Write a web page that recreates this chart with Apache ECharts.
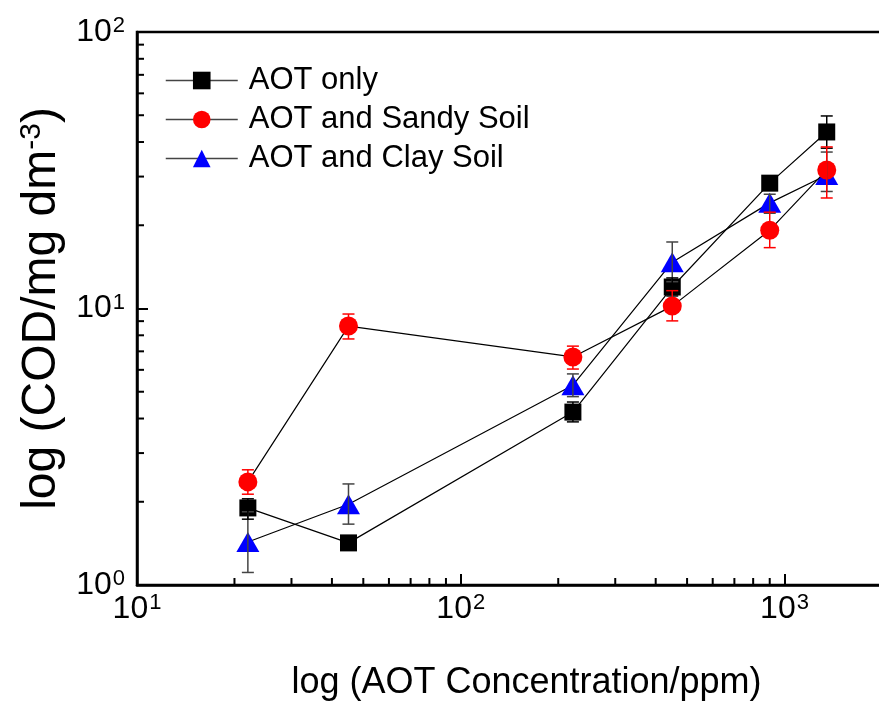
<!DOCTYPE html>
<html>
<head>
<meta charset="utf-8">
<script src="https://cdn.jsdelivr.net/npm/echarts@6/dist/echarts.min.js"></script>
<style>
  html, body { margin: 0; padding: 0; background: #fff; }
  #chart { width: 879px; height: 704px; }
</style>
</head>
<body>
<div id="chart"></div>
<script>
// AOT concentration (ppm)
const concentrations = [22, 45, 222, 450, 900, 1350]

// COD (mg dm-3)
const aotOnly = [1.90, 1.42, 4.22, 11.96, 28.4, 43.5]
const aotOnlyLow = [1.73, 1.36, 3.89, 11.1, 27.6, 38.0]
const aotOnlyHigh = [2.05, 1.48, 4.59, 12.9, 29.2, 49.7]

const aotSandy = [2.36, 8.64, 6.68, 10.2, 19.2, 31.7]
const aotSandyLow = [2.13, 7.76, 6.04, 9.02, 16.6, 25.1]
const aotSandyHigh = [2.61, 9.55, 7.31, 11.6, 22.3, 38.4]

const aotClay = [1.43, 1.96, 5.28, 14.7, 24.1, 30.4]
const aotClayLow = [1.11, 1.66, 4.80, 12.5, 22.1, 26.5]
const aotClayHigh = [1.84, 2.32, 5.80, 17.4, 25.9, 36.8]

// axes
const xMin = 10
const xMax = 2000
const yMin = 1
const yMax = 100
const xMinorTicks = [20, 30, 40, 50, 60, 70, 80, 90, 200, 300, 400, 500, 600, 700, 800, 900]
const yMinorTicks = [2, 3, 4, 5, 6, 7, 8, 9, 20, 30, 40, 50, 60, 70, 80, 90]

const FONT = 'Liberation Sans, Arial, sans-serif'

function powerLabel(v) {
  const e = Math.round(Math.log10(v) * 1000) / 1000
  if (Math.abs(e - Math.round(e)) > 1e-6) return ''
  return '{b|10}{sup|' + Math.round(e) + '}'
}

const labelRich = {
  b: { fontSize: 32, fontFamily: FONT, color: '#000', lineHeight: 34 },
  sup: { fontSize: 22, fontFamily: FONT, color: '#000', verticalAlign: 'top', lineHeight: 34, padding: [0, 0, 12, 1] }
}

function errorBarSeries(id, color, lows, highs) {
  return {
    type: 'custom',
    id: id,
    silent: true,
    z: 10,
    data: concentrations.map((c, i) => [c, lows[i], highs[i]]),
    encode: { x: 0, y: [1, 2] },
    renderItem(params, api) {
      const lo = api.coord([api.value(0), api.value(1)])
      const hi = api.coord([api.value(0), api.value(2)])
      const w = 6
      const style = { stroke: color, lineWidth: 1.5 }
      return {
        type: 'group',
        children: [
          { type: 'line', shape: { x1: lo[0], y1: lo[1], x2: hi[0], y2: hi[1] }, style },
          { type: 'line', shape: { x1: lo[0] - w, y1: lo[1], x2: lo[0] + w, y2: lo[1] }, style },
          { type: 'line', shape: { x1: hi[0] - w, y1: hi[1], x2: hi[0] + w, y2: hi[1] }, style }
        ]
      }
    }
  }
}

const chart = echarts.init(document.getElementById('chart'))

const option = {
  animation: false,
  backgroundColor: '#fff',
  grid: {
    left: 137,
    top: 32,
    width: 745,
    height: 553,
    outerBoundsMode: 'none',
    containLabel: false,
    show: true,
    borderColor: '#000',
    borderWidth: 2.5,
    backgroundColor: 'transparent'
  },
  legend: {
    left: 160,
    top: 60,
    orient: 'vertical',
    itemWidth: 72,
    itemHeight: 22,
    itemGap: 8,
    data: ['AOT only', 'AOT and Sandy Soil', 'AOT and Clay Soil'],
    lineStyle: { color: '#444', width: 1.5 },
    textStyle: { fontSize: 31, fontFamily: FONT, color: '#000', padding: [0, 0, 0, 6] }
  },
  xAxis: {
    type: 'log',
    logBase: 10,
    min: xMin,
    max: xMax,
    name: 'log (AOT Concentration/ppm)',
    nameLocation: 'middle',
    nameGap: 80,
    nameTextStyle: { fontSize: 36, fontFamily: FONT, color: '#000', padding: [0, 0, 0, 34] },
    axisLine: { lineStyle: { color: '#000', width: 2.5 } },
    axisTick: { inside: true, length: 11, lineStyle: { color: '#000', width: 2 } },
    axisLabel: { margin: 7, formatter: powerLabel, rich: labelRich },
    splitLine: { show: false }
  },
  yAxis: {
    type: 'log',
    logBase: 10,
    min: yMin,
    max: yMax,
    name: 'log (COD/mg dm{sup|-3})',
    nameLocation: 'middle',
    nameRotate: 90,
    nameGap: 66,
    nameTextStyle: {
      fontSize: 48, fontFamily: FONT, color: '#000',
      rich: {
        sup: { fontSize: 30, fontFamily: FONT, color: '#000', verticalAlign: 'top', padding: [0, 0, 20, 0] }
      }
    },
    axisLine: { lineStyle: { color: '#000', width: 2.5 } },
    axisTick: { inside: true, length: 11, lineStyle: { color: '#000', width: 2 } },
    axisLabel: { margin: 12, formatter: powerLabel, rich: labelRich },
    splitLine: { show: false }
  },
  series: [
    {
      // minor ticks on the x axis
      type: 'custom',
      silent: true,
      data: xMinorTicks.map(v => [v, yMin]),
      encode: { x: 0, y: 1 },
      renderItem(params, api) {
        const p = api.coord([api.value(0), api.value(1)])
        return { type: 'line', shape: { x1: p[0], y1: p[1], x2: p[0], y2: p[1] - 7 }, style: { stroke: '#000', lineWidth: 2 } }
      }
    },
    {
      // minor ticks on the y axis
      type: 'custom',
      silent: true,
      data: yMinorTicks.map(v => [xMin, v]),
      encode: { x: 0, y: 1 },
      renderItem(params, api) {
        const p = api.coord([api.value(0), api.value(1)])
        return { type: 'line', shape: { x1: p[0], y1: p[1], x2: p[0] + 7, y2: p[1] }, style: { stroke: '#000', lineWidth: 2 } }
      }
    },
    {
      name: 'AOT and Clay Soil',
      type: 'line',
      z: 3,
      data: concentrations.map((c, i) => [c, aotClay[i]]),
      symbol: 'triangle',
      symbolSize: [23, 20],
      itemStyle: { color: '#0000ff' },
      lineStyle: { color: '#000', width: 1.2 }
    },
    {
      name: 'AOT only',
      type: 'line',
      z: 4,
      data: concentrations.map((c, i) => [c, aotOnly[i]]),
      symbol: 'rect',
      symbolSize: 17,
      itemStyle: { color: '#000' },
      lineStyle: { color: '#000', width: 1.2 }
    },
    {
      name: 'AOT and Sandy Soil',
      type: 'line',
      z: 5,
      data: concentrations.map((c, i) => [c, aotSandy[i]]),
      symbol: 'circle',
      symbolSize: 19,
      itemStyle: { color: '#ff0000' },
      lineStyle: { color: '#000', width: 1.2 }
    },
    errorBarSeries('errClay', '#444', aotClayLow, aotClayHigh),
    errorBarSeries('errOnly', '#000', aotOnlyLow, aotOnlyHigh),
    errorBarSeries('errSandy', '#ff0000', aotSandyLow, aotSandyHigh)
  ]
}

chart.setOption(option)
</script>
</body>
</html>
